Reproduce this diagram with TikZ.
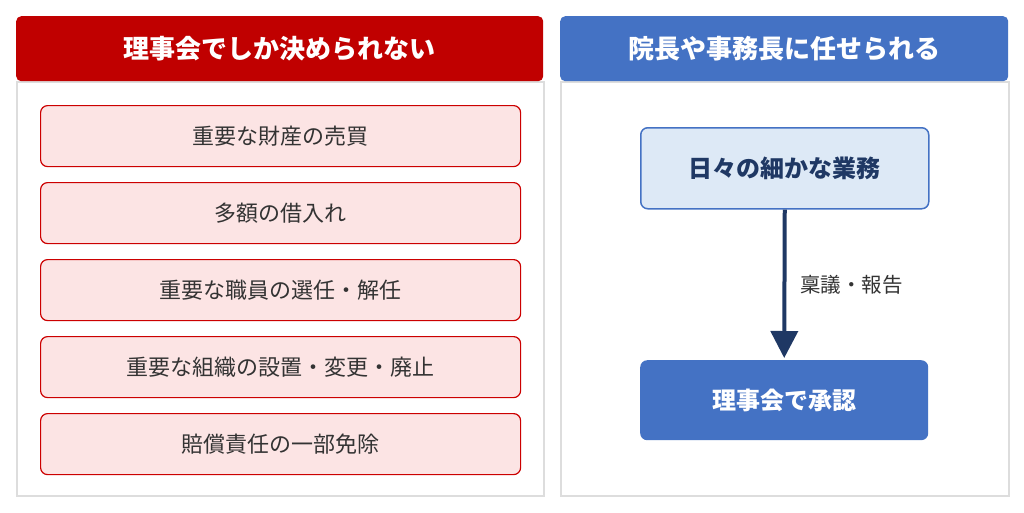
\documentclass[tikz,border=0pt]{standalone}
\usepackage{fontspec}
\setmainfont{Noto Sans CJK JP}
\usetikzlibrary{arrows.meta}
\definecolor{hdrred}{HTML}{C00000}
\definecolor{hdrblue}{HTML}{4472C4}
\definecolor{pinkfill}{HTML}{FCE4E4}
\definecolor{pinkline}{HTML}{CC0000}
\definecolor{lightblue}{HTML}{DDE9F6}
\definecolor{navy}{HTML}{1F3864}
\definecolor{panelline}{HTML}{DDDDDD}
\definecolor{txtgray}{HTML}{333333}
\tikzset{
  panel/.style={draw=panelline, line width=1.5pt, fill=white, minimum width=527pt, minimum height=414pt, anchor=north west, inner sep=0pt},
  header/.style={rounded corners=5pt, minimum height=65pt, anchor=north west, inner sep=0pt, text=white, font=\bfseries\fontsize{26}{30}\selectfont},
  itembox/.style={draw=pinkline, line width=1.2pt, fill=pinkfill, rounded corners=7pt, minimum width=480pt, minimum height=61pt, anchor=north west, inner sep=0pt, text=txtgray, font=\fontsize{22}{26}\selectfont},
  taskbox/.style={draw=hdrblue, line width=1.5pt, fill=lightblue, rounded corners=7pt, minimum width=288pt, minimum height=81pt, anchor=north west, inner sep=0pt, text=navy, font=\bfseries\fontsize{24}{28}\selectfont},
  approvebox/.style={fill=hdrblue, rounded corners=7pt, minimum width=288pt, minimum height=80pt, anchor=north west, inner sep=0pt, text=white, font=\bfseries\fontsize{24}{28}\selectfont},
  flow/.style={draw=navy, line width=4pt, -{Triangle[width=27pt,length=27pt]}},
}
\begin{document}
\begin{tikzpicture}[x=1pt,y=-1pt]
\useasboundingbox (0,0) rectangle (1024,512);
\fill[white] (0,0) rectangle (1024,512);
% left panel
\node[panel] (lpanel) at (16,81) {};
\node[header, fill=hdrred, minimum width=527pt] (lhead) at (16,16) {理事会でしか決められない};
\node[itembox] (i1) at (40,105) {重要な財産の売買};
\node[itembox] (i2) at (40,182) {多額の借入れ};
\node[itembox] (i3) at (40,259) {重要な職員の選任・解任};
\node[itembox] (i4) at (40,336) {重要な組織の設置・変更・廃止};
\node[itembox] (i5) at (40,413) {賠償責任の一部免除};
% right panel
\node[panel, minimum width=448pt] (rpanel) at (560,81) {};
\node[header, fill=hdrblue, minimum width=448pt] (rhead) at (560,16) {院長や事務長に任せられる};
\node[taskbox] (task) at (640,127) {日々の細かな業務};
\node[approvebox] (approve) at (640,360) {理事会で承認};
\draw[flow, shorten >=2pt] (task.south) -- (approve.north);
\path (task.south) -- (approve.north)
  node[pos=0.5, right=12pt, text=txtgray, font=\fontsize{20.5}{24}\selectfont] (lbl) {稟議・報告};
\end{tikzpicture}
\end{document}
